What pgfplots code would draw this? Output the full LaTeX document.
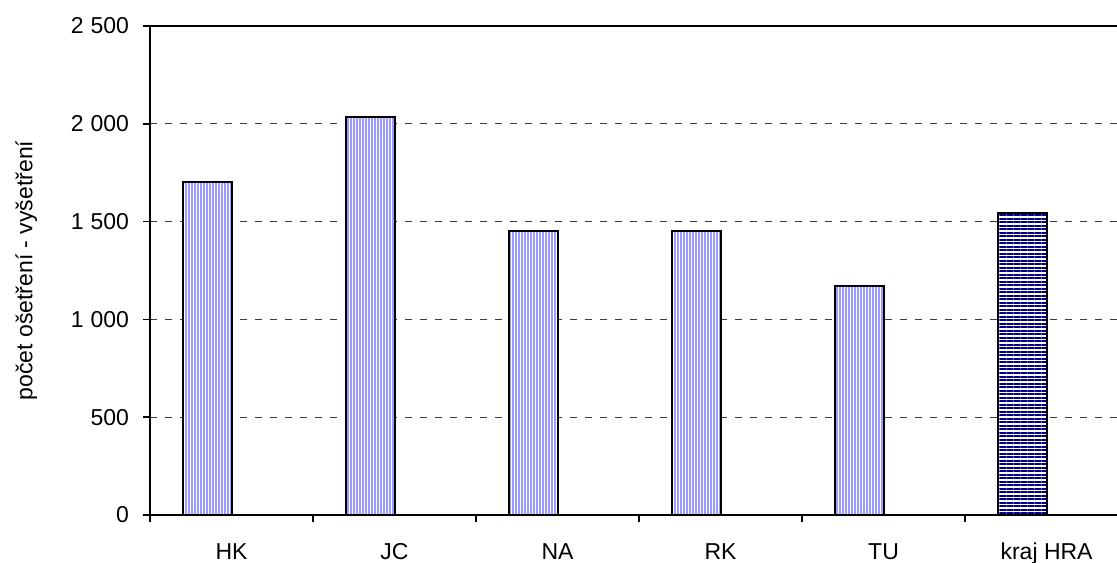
\documentclass[border=0pt]{standalone}
\usepackage{fontspec}
\setmainfont{Liberation Sans}
\usepackage{pgfplots}
\pgfplotsset{compat=1.18}
\usetikzlibrary{patterns.meta}
\definecolor{stripe}{RGB}{155,155,255}
\definecolor{navybar}{RGB}{0,0,128}
\definecolor{gridc}{RGB}{60,60,60}
\begin{document}
\begin{tikzpicture}
\useasboundingbox (0,0) rectangle (558.5pt,281pt);
\begin{axis}[
  at={(75pt,23.5pt)}, anchor=south west,
  scale only axis, width=483.5pt, height=244.5pt,
  xmin=-0.5, xmax=5.432, ymin=0, ymax=2500,
  axis lines*=left,
  axis line style={line width=1pt},
  tick align=outside,
  major tick length=3.5pt, minor tick length=3.5pt,
  tick style={black, line width=0.75pt},
  xtick={0,1,2,3,4,5},
  xticklabels={HK,JC,NA,RK,TU,kraj HRA},
  every major x tick/.append style={draw=none},
  minor xtick={-0.5,0.5,1.5,2.5,3.5,4.5},
  ytick={0,500,1000,1500,2000,2500},
  ymajorgrids,
  major grid style={gridc, line width=0.5pt, dash pattern=on 3.5pt off 4pt},
  /pgf/number format/assume math mode=true,
  /pgf/number format/1000 sep={\hspace{0.3em}},
  tick label style={font=\fontsize{11.5}{14}\selectfont},
  yticklabel style={xshift=-3.5pt},
  xticklabel style={anchor=base, yshift=-18.5pt},
  ylabel={počet ošetření - vyšetření},
  ylabel style={font=\fontsize{11.5}{14}\selectfont, at={(axis description cs:-0.128,0.5)}, anchor=center},
]
\addplot[ybar, bar width=24.5pt, bar shift=-12.25pt, draw=black, line width=1pt,
  preaction={fill=white},
  pattern={Lines[angle=90,distance=1.5pt,line width=0.75pt]}, pattern color=stripe]
  coordinates {(0,1700) (1,2035) (2,1450) (3,1450) (4,1170)};
\addplot[ybar, bar width=24.5pt, bar shift=-12.25pt, draw=black, line width=1pt,
  preaction={fill=white},
  pattern={Lines[angle=0,distance=1.75pt,line width=1pt]}, pattern color=navybar]
  coordinates {(5,1545)};
\draw[black, line width=1pt] (rel axis cs:0,1) -- (rel axis cs:1,1);
\end{axis}
\end{tikzpicture}
\end{document}
